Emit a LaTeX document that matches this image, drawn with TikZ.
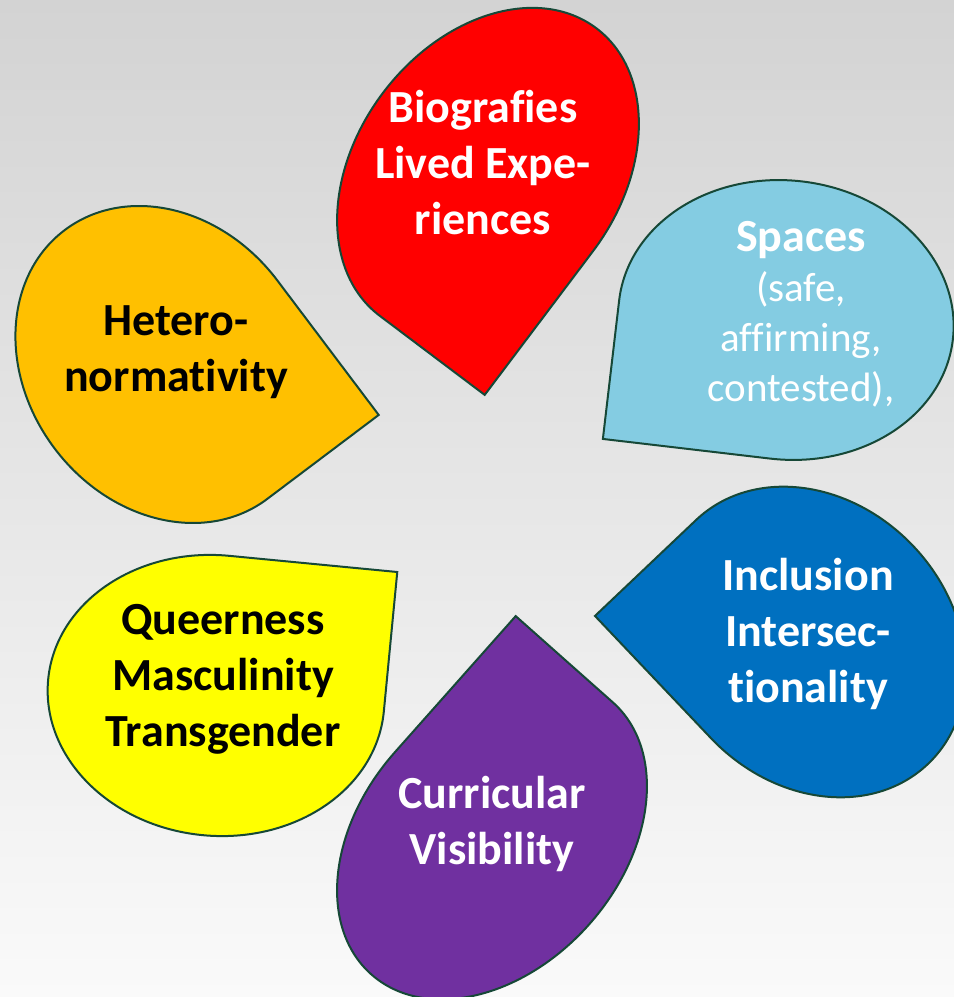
\documentclass[tikz,border=0pt]{standalone}
\usepackage{fontspec}
\setmainfont{Carlito}[Ligatures=NoCommon]
\usetikzlibrary{positioning}
\definecolor{bgtop}{RGB}{211,211,211}
\definecolor{bgmid}{RGB}{243,243,243}
\definecolor{bgbot}{RGB}{250,250,250}
\definecolor{rim}{RGB}{22,72,55}
\definecolor{dropred}{RGB}{255,0,0}
\definecolor{dropcyan}{RGB}{132,204,226}
\definecolor{dropblue}{RGB}{0,112,192}
\definecolor{dropyellow}{RGB}{255,255,0}
\definecolor{droporange}{RGB}{255,192,0}
\definecolor{droppurple}{RGB}{112,48,160}
% drop: center, rotation, x radius, y radius, fill
\newcommand{\drop}[5]{%
  \begin{scope}[shift={#1}, rotate=#2]
    \draw[petal, fill=#5] (#3,#4) -- (#3,0)
      arc[start angle=0, end angle=-270, x radius=#3, y radius=#4] -- cycle;
  \end{scope}}

\begin{document}
\begin{tikzpicture}[x=0.5pt, y=0.5pt,
    petal/.style={draw=rim, line width=1pt, line join=miter},
    lab/.style={align=center, anchor=base, font=\bfseries\fontsize{23}{28}\selectfont},
    wlab/.style={lab, text=white}]
	\useasboundingbox (0,0) rectangle (954,997);
	\clip (0,0) rectangle (954,997);
	\shade[top color=bgtop, middle color=bgmid, bottom color=bgbot] (0,0) rectangle (954,997);

	\drop{(488,825)}{233}{180}{131.5}{dropred}
	\drop{(786,677)}{173.3}{168}{139.5}{dropcyan}
	\drop{(166,632.5)}{-53}{168.3}{139.5}{droporange}
	\drop{(812,355)}{133.5}{168.3}{139.5}{dropblue}
	\drop{(216,301.5)}{-5.5}{168.6}{140.3}{dropyellow}
	\drop{(492,158.7)}{48.4}{181.9}{129.8}{droppurple}

	% base = last line
	\node[wlab] (bio) at (483,762) {Biografies\\Lived Expe-\\riences};
	\node[wlab, font=\fontsize{20.5}{25}\selectfont] (spaces) at (801,595)
		{{\bfseries\fontsize{23}{28}\selectfont Spaces}\\(safe,\\affirming,\\contested),};
	\node[lab] (hetero) at (176,605) {Hetero-\\normativity};
	\node[wlab] (incl) at (808,294) {Inclusion\\Intersec-\\tionality};
	\node[lab] (queer) at (223,250) {Queerness\\Masculinity\\Transgender};
	\node[wlab] (curr) at (492,132) {Curricular\\Visibility};
\end{tikzpicture}
\end{document}
